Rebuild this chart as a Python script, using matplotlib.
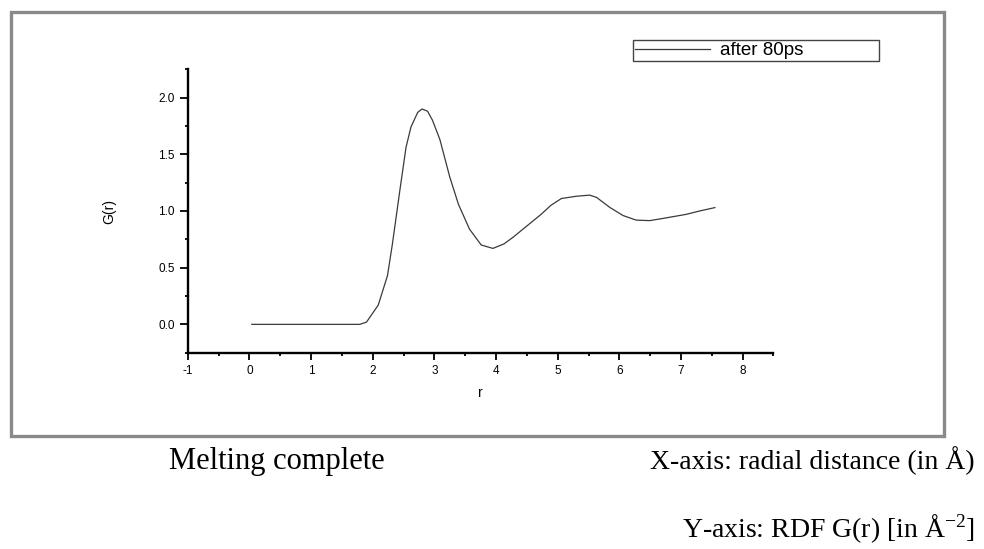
import numpy as np
import matplotlib.pyplot as plt
from matplotlib.patches import Rectangle

# radial distribution function after 80 ps (melting complete)
r = [0.04, 0.5, 1.0, 1.5, 1.79, 1.90, 2.09, 2.24, 2.32, 2.44, 2.54, 2.62, 2.73, 2.80,
     2.89, 2.97, 3.09, 3.25, 3.39, 3.57, 3.76, 3.95, 4.13, 4.28, 4.55, 4.73, 4.89,
     5.06, 5.30, 5.52, 5.63, 5.85, 6.06, 6.27, 6.49, 6.66, 6.87, 7.08, 7.30, 7.55]
g = [0.0, 0.0, 0.0, 0.0, 0.0, 0.02, 0.17, 0.43, 0.71, 1.18, 1.56, 1.74, 1.87, 1.90,
     1.88, 1.80, 1.63, 1.30, 1.06, 0.84, 0.70, 0.67, 0.71, 0.77, 0.89, 0.97, 1.05,
     1.11, 1.13, 1.14, 1.12, 1.03, 0.96, 0.92, 0.915, 0.93, 0.95, 0.97, 1.00, 1.03]
series_label = 'after 80ps'

xticks = list(range(-1, 9))
yticks = [0.0, 0.5, 1.0, 1.5, 2.0]

plt.rcParams['font.family'] = ['Liberation Sans', 'DejaVu Sans']
plt.rcParams['axes.unicode_minus'] = False
plt.rcParams['mathtext.fontset'] = 'custom'
plt.rcParams['mathtext.rm'] = 'Liberation Serif'
plt.rcParams['mathtext.it'] = 'Liberation Serif:italic'

fig = plt.figure(figsize=(9.84, 5.49), dpi=100)
W, H = 984, 549

# grey frame around the plot
fig.patches.append(Rectangle((11 / W, 1 - 436 / H), (944 - 11) / W, (436 - 12) / H,
                             transform=fig.transFigure, fill=False,
                             edgecolor='#8a8a8a', linewidth=2.4))

ax = fig.add_axes([187.7 / W, 1 - 352.7 / H, (773.5 - 187.7) / W, (352.7 - 69.3) / H])
ax.plot(r, g, color='#3a3a3a', linewidth=0.9, label=series_label)

ax.set_xlim(-1, 8.5)
ax.set_ylim(-0.25, 2.25)
ax.set_xticks(xticks)
ax.set_xticks(np.arange(-0.5, 8.6, 1.0), minor=True)
ax.set_yticks(yticks)
ax.set_yticklabels([f'{v:.1f}' for v in yticks])
ax.set_yticks(np.arange(-0.25, 2.3, 0.5), minor=True)

for side in ('top', 'right'):
    ax.spines[side].set_visible(False)
for side in ('left', 'bottom'):
    ax.spines[side].set_linewidth(1.7)

ax.tick_params(which='major', length=5, width=1.3, labelsize=8.5, pad=3.5)
ax.tick_params(axis='y', which='major', length=6)
ax.tick_params(which='minor', length=2.5, width=1.3)

ax.set_xlabel('r', fontsize=10, labelpad=7)
ax.set_ylabel('G(r)', fontsize=10, labelpad=30)

leg = ax.legend(loc='upper left', mode='expand',
                bbox_to_anchor=(633 / W, 1 - 40.5 / H, 246 / W, 0.0001),
                bbox_transform=fig.transFigure, borderaxespad=0,
                fontsize=13.5, handlelength=4.0, handletextpad=0.55,
                borderpad=0.1, fancybox=False, framealpha=1)
leg.get_frame().set_edgecolor('#444444')
leg.get_frame().set_linewidth(1.0)

# caption text below the frame
serif = ['Liberation Serif', 'DejaVu Serif']
fig.text(169 / W, 1 - 469 / H, 'Melting complete', family=serif, fontsize=22,
         ha='left', va='baseline')
fig.text(975 / W, 1 - 469 / H, 'X-axis: radial distance (in Å)', family=serif,
         fontsize=20, ha='right', va='baseline')
fig.text(975 / W, 1 - 537 / H, r'Y-axis: RDF G(r) [in Å$^{\mathrm{-2}}$]', family=serif,
         fontsize=20, ha='right', va='baseline')

fig.savefig('out.png', dpi=100)
